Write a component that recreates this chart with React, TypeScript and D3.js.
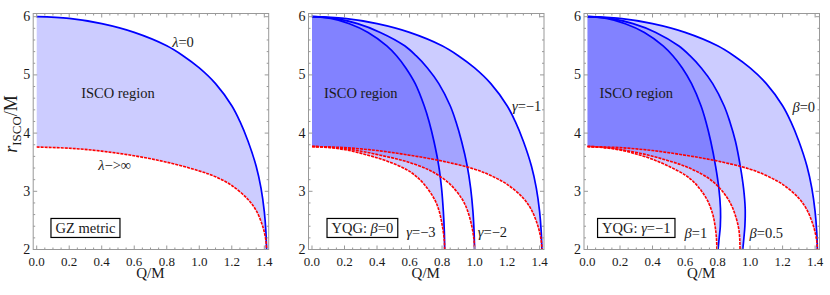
import React, { useLayoutEffect, useRef, useState } from 'react';
import * as d3 from 'd3';

type Pt = [number, number]; // [Q/M, r_ISCO/M]

const qTicks = [0, 0.2, 0.4, 0.6, 0.8, 1.0, 1.2, 1.4];
const rTicks = [2, 3, 4, 5, 6];

// GZ metric
const gzLambda0: Pt[] = [
  [0, 6.0], [0.2, 5.97], [0.4, 5.88], [0.6, 5.73], [0.8, 5.5], [0.9, 5.33], [1.0, 5.12],
  [1.1, 4.85], [1.2, 4.47], [1.25, 4.2], [1.3, 3.86], [1.35, 3.43], [1.38, 3.05], [1.4, 2.65],
  [1.41, 2.3], [1.414, 2.0],
];
const gzLambdaInf: Pt[] = [
  [0, 3.76], [0.2, 3.74], [0.4, 3.69], [0.6, 3.61], [0.8, 3.5], [1.0, 3.35], [1.1, 3.25],
  [1.2, 3.1], [1.3, 2.86], [1.35, 2.67], [1.39, 2.4], [1.41, 2.15], [1.414, 2.0],
];

// YQG, gamma family (beta = 0)
const yqgG1Upper: Pt[] = [
  [0, 6.0], [0.2, 5.97], [0.4, 5.88], [0.6, 5.73], [0.8, 5.5], [0.9, 5.33], [1.0, 5.12],
  [1.1, 4.85], [1.2, 4.47], [1.25, 4.2], [1.3, 3.86], [1.35, 3.43], [1.38, 3.05], [1.4, 2.65],
  [1.41, 2.3], [1.414, 2.0],
];
const yqgG1Lower: Pt[] = [
  [0, 3.77], [0.2, 3.75], [0.4, 3.7], [0.6, 3.62], [0.8, 3.52], [1.0, 3.38], [1.1, 3.27],
  [1.2, 3.12], [1.3, 2.88], [1.35, 2.68], [1.39, 2.4], [1.41, 2.15], [1.414, 2.0],
];
const yqgG2Upper: Pt[] = [
  [0, 6.0], [0.14, 5.97], [0.28, 5.88], [0.42, 5.73], [0.57, 5.5], [0.64, 5.33], [0.71, 5.12],
  [0.78, 4.85], [0.85, 4.47], [0.885, 4.2], [0.92, 3.86], [0.955, 3.43], [0.976, 3.05],
  [0.99, 2.65], [0.997, 2.3], [1.0, 2.0],
];
const yqgG2Lower: Pt[] = [
  [0, 3.77], [0.14, 3.75], [0.28, 3.7], [0.42, 3.62], [0.57, 3.52], [0.71, 3.38], [0.78, 3.27],
  [0.85, 3.12], [0.92, 2.88], [0.955, 2.68], [0.983, 2.4], [0.997, 2.15], [1.0, 2.0],
];
const yqgG3Upper: Pt[] = [
  [0, 6.0], [0.115, 5.97], [0.23, 5.88], [0.345, 5.73], [0.46, 5.5], [0.52, 5.33],
  [0.577, 5.12], [0.635, 4.85], [0.69, 4.47], [0.72, 4.2], [0.75, 3.86], [0.78, 3.43],
  [0.797, 3.05], [0.808, 2.65], [0.814, 2.3], [0.816, 2.0],
];
const yqgG3Lower: Pt[] = [
  [0, 3.77], [0.115, 3.75], [0.23, 3.7], [0.345, 3.62], [0.46, 3.52], [0.577, 3.38],
  [0.635, 3.27], [0.69, 3.12], [0.75, 2.88], [0.78, 2.68], [0.802, 2.4], [0.814, 2.15],
  [0.816, 2.0],
];

// YQG, beta family (gamma = -1); beta = 0 is the gamma = -1 pair above
const yqgB05Upper: Pt[] = [
  [0, 6.0], [0.14, 5.97], [0.28, 5.88], [0.42, 5.73], [0.56, 5.5], [0.63, 5.33], [0.7, 5.12],
  [0.77, 4.85], [0.84, 4.47], [0.875, 4.2], [0.91, 3.86], [0.94, 3.43], [0.96, 3.05],
  [0.97, 2.7], [0.968, 2.4], [0.962, 2.2], [0.955, 2.0],
];
const yqgB05Lower: Pt[] = [
  [0, 3.77], [0.12, 3.75], [0.24, 3.7], [0.36, 3.63], [0.48, 3.54], [0.6, 3.43], [0.7, 3.3],
  [0.77, 3.17], [0.83, 3.0], [0.88, 2.79], [0.91, 2.58], [0.93, 2.36], [0.937, 2.15],
  [0.938, 2.0],
];
const yqgB1Upper: Pt[] = [
  [0, 6.0], [0.116, 5.97], [0.232, 5.88], [0.35, 5.73], [0.465, 5.5], [0.525, 5.33],
  [0.583, 5.12], [0.64, 4.85], [0.698, 4.47], [0.728, 4.2], [0.758, 3.86], [0.788, 3.43],
  [0.808, 3.05], [0.818, 2.7], [0.817, 2.4], [0.81, 2.2], [0.803, 2.0],
];
const yqgB1Lower: Pt[] = [
  [0, 3.77], [0.1, 3.75], [0.2, 3.71], [0.3, 3.64], [0.4, 3.55], [0.5, 3.43], [0.6, 3.28],
  [0.65, 3.17], [0.7, 3.01], [0.74, 2.83], [0.77, 2.61], [0.785, 2.4], [0.793, 2.2],
  [0.796, 2.0],
];

interface Note { greek?: string; pre?: string; rest: string; q: number; r: number; }
interface PanelDef {
  left: number;
  regions: { upper: Pt[]; lower: Pt[] }[];
  box: Note;
  notes: Note[];
}

const panels: PanelDef[] = [
  {
    left: 33.2,
    regions: [{ upper: gzLambda0, lower: gzLambdaInf }],
    box: { rest: 'GZ metric', q: 0.3, r: 2.37 },
    notes: [
      { greek: 'λ', rest: '=0', q: 0.9, r: 5.56 },
      { rest: 'ISCO region', q: 0.5, r: 4.69 },
      { greek: 'λ', rest: '−>∞', q: 0.48, r: 3.45 },
    ],
  },
  {
    left: 308.5,
    regions: [
      { upper: yqgG1Upper, lower: yqgG1Lower },
      { upper: yqgG2Upper, lower: yqgG2Lower },
      { upper: yqgG3Upper, lower: yqgG3Lower },
    ],
    box: { pre: 'YQG:  ', greek: 'β', rest: '=0', q: 0.31, r: 2.37 },
    notes: [
      { rest: 'ISCO region', q: 0.3, r: 4.69 },
      { greek: 'γ', rest: '=−1', q: 1.32, r: 4.47 },
      { greek: 'γ', rest: '=−3', q: 0.67, r: 2.3 },
      { greek: 'γ', rest: '=−2', q: 1.11, r: 2.3 },
    ],
  },
  {
    left: 584,
    regions: [
      { upper: yqgG1Upper, lower: yqgG1Lower },
      { upper: yqgB05Upper, lower: yqgB05Lower },
      { upper: yqgB1Upper, lower: yqgB1Lower },
    ],
    box: { pre: 'YQG: ', greek: 'γ', rest: '=−1', q: 0.3, r: 2.37 },
    notes: [
      { rest: 'ISCO region', q: 0.3, r: 4.69 },
      { greek: 'β', rest: '=0', q: 1.33, r: 4.45 },
      { greek: 'β', rest: '=1', q: 0.667, r: 2.28 },
      { greek: 'β', rest: '=0.5', q: 1.1, r: 2.28 },
    ],
  },
];

const FONT = '"Liberation Serif", "Times New Roman", serif';
const frameW = 235.5;
const top = 13.5;
const bottom = 249.5;
const frameColor = '#999';
const textColor = '#1a1a1a';

const NoteText: React.FC<{ n: Note; x: number; y: number; size?: number }> = ({ n, x, y, size = 14.5 }) => (
  <text x={x} y={y} textAnchor="middle" dominantBaseline="central" fontSize={size} fill={textColor}>
    {n.pre}
    {n.greek && <tspan fontStyle="italic">{n.greek}</tspan>}
    {n.rest}
  </text>
);

const BoxLabel: React.FC<{ n: Note; x: number; y: number }> = ({ n, x, y }) => {
  const ref = useRef<SVGGElement | null>(null);
  const [w, setW] = useState(68);
  useLayoutEffect(() => {
    const t = ref.current?.querySelector('text');
    if (t) setW(t.getBBox().width + 9);
  }, []);
  return (
    <g ref={ref}>
      <rect x={x - w / 2} y={y - 9.5} width={w} height={19} fill="white" stroke="#000" strokeWidth={1.2} />
      <NoteText n={n} x={x} y={y} />
    </g>
  );
};

const Panel: React.FC<{ p: PanelDef; idx: number }> = ({ p, idx }) => {
  const x = d3.scaleLinear().domain([-0.0215, 1.427]).range([p.left, p.left + frameW]);
  const y = d3.scaleLinear().domain([2, 6.055]).range([bottom, top]);
  const line = d3.line<Pt>().x(d => x(d[0])).y(d => y(d[1])).curve(d3.curveCatmullRom.alpha(0.5));
  const regionPath = (up: Pt[], lo: Pt[]) =>
    (line(up) || '') + (line([...lo].reverse()) || '').replace(/^M/, 'L') + 'Z';

  const qMinor = d3.range(0, 1.43, 0.05).filter(v => Math.abs(v * 5 - Math.round(v * 5)) > 1e-6);
  const rMinor = d3.range(2, 6.06, 0.2).filter(v => Math.abs(v - Math.round(v)) > 1e-6);
  const clipId = `clip${idx}`;

  return (
    <g>
      <defs>
        <clipPath id={clipId}>
          <rect x={p.left} y={top} width={frameW} height={bottom - top} />
        </clipPath>
      </defs>
      <g clipPath={`url(#${clipId})`}>
        {p.regions.map((rg, i) => (
          <path key={'f' + i} d={regionPath(rg.upper, rg.lower)} fill="rgb(0,0,255)" fillOpacity={0.2} stroke="none" />
        ))}
        {p.regions.map((rg, i) => (
          <path key={'b' + i} d={line(rg.upper) || ''} fill="none" stroke="#0000ff" strokeWidth={1.7} />
        ))}
        {p.regions.map((rg, i) => (
          <path key={'r' + i} d={line(rg.lower) || ''} fill="none" stroke="#ff0000" strokeWidth={1.6} strokeDasharray="3,1" />
        ))}
      </g>

      {/* frame */}
      <rect x={p.left} y={top} width={frameW} height={bottom - top} fill="none" stroke={frameColor} strokeWidth={1} />
      {qTicks.map(v => (
        <g key={'qt' + v}>
          <line x1={x(v)} x2={x(v)} y1={bottom} y2={bottom - 4} stroke={frameColor} />
          <line x1={x(v)} x2={x(v)} y1={top} y2={top + 4} stroke={frameColor} />
          <text x={x(v)} y={266} textAnchor="middle" fontSize={13} fill={textColor}>
            {d3.format('.1f')(v)}
          </text>
        </g>
      ))}
      {qMinor.map(v => (
        <g key={'qm' + v}>
          <line x1={x(v)} x2={x(v)} y1={bottom} y2={bottom - 2} stroke={frameColor} />
          <line x1={x(v)} x2={x(v)} y1={top} y2={top + 2} stroke={frameColor} />
        </g>
      ))}
      {rTicks.map(v => (
        <g key={'rt' + v}>
          <line x1={p.left} x2={p.left + 4} y1={y(v)} y2={y(v)} stroke={frameColor} />
          <line x1={p.left + frameW} x2={p.left + frameW - 4} y1={y(v)} y2={y(v)} stroke={frameColor} />
          <text x={p.left - 3} y={y(v)} textAnchor="end" dominantBaseline="central" fontSize={14} fill={textColor}>
            {v}
          </text>
        </g>
      ))}
      {rMinor.map(v => (
        <g key={'rm' + v}>
          <line x1={p.left} x2={p.left + 2} y1={y(v)} y2={y(v)} stroke={frameColor} />
          <line x1={p.left + frameW} x2={p.left + frameW - 2} y1={y(v)} y2={y(v)} stroke={frameColor} />
        </g>
      ))}
      <text x={p.left + frameW / 2 - 0.5} y={278} textAnchor="middle" fontSize={15} fill={textColor}>
        Q/M
      </text>

      {p.notes.map((n, i) => (
        <NoteText key={'n' + i} n={n} x={x(n.q)} y={y(n.r)} />
      ))}
      <BoxLabel n={p.box} x={x(p.box.q)} y={y(p.box.r)} />
    </g>
  );
};

const App: React.FC = () => (
  <svg
    width={830}
    height={295}
    style={{ position: 'absolute', left: 0, top: 0, background: 'white' }}
    fontFamily={FONT}
  >
    {panels.map((p, i) => (
      <Panel key={i} p={p} idx={i} />
    ))}
    <text transform="translate(17,124) rotate(-90)" textAnchor="middle" fontSize={18} fill={textColor}>
      <tspan fontStyle="italic">r</tspan>
      <tspan fontSize={13} dy={3.5}>ISCO</tspan>
      <tspan dy={-3.5}>/M</tspan>
    </text>
  </svg>
);

export default App;
